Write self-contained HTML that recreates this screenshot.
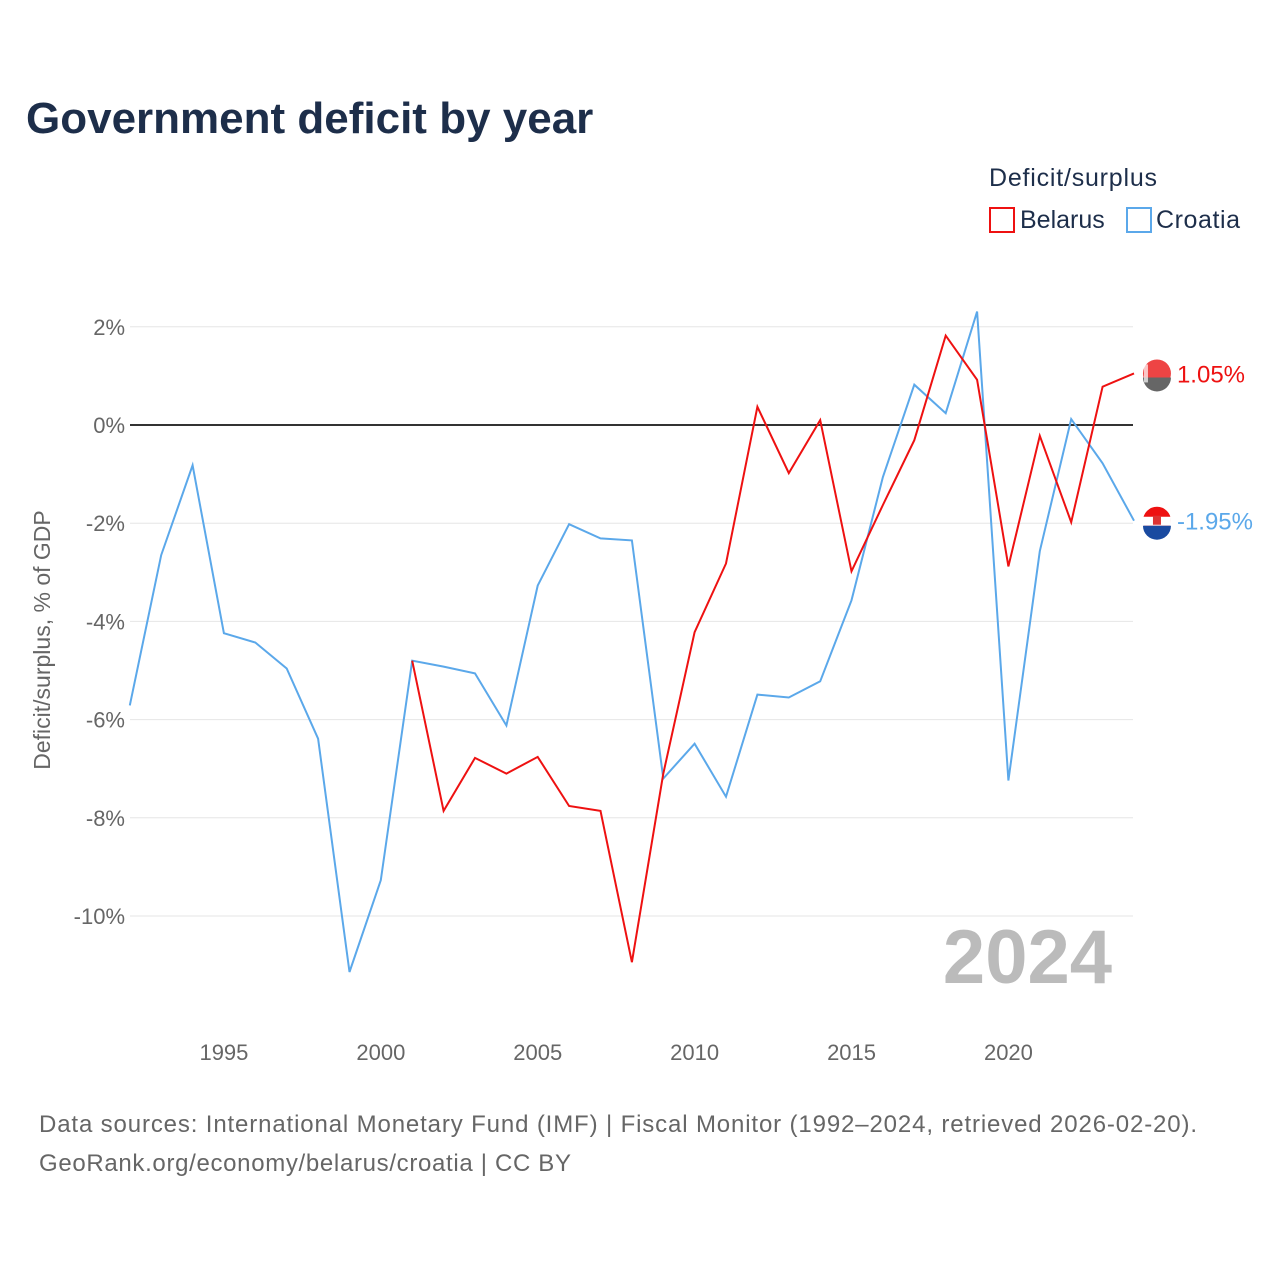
<!DOCTYPE html>
<html><head><meta charset="utf-8">
<style>
body{margin:0;background:#fff;font-family:"Liberation Sans",sans-serif;}
#wrap{position:relative;width:1280px;height:1280px;overflow:hidden;}
</style></head>
<body>
<div id="wrap">
<svg id="chart" width="1280" height="1280" style="font-family:'Liberation Sans',sans-serif">
<text x="26" y="133" font-size="44" font-weight="bold" fill="#1d2e4a">Government deficit by year</text>
<text x="989" y="186" font-size="25" fill="#1d2e4a" textLength="168">Deficit/surplus</text>
<g><rect x="990" y="208" width="24" height="24" fill="none" stroke="#ee1111" stroke-width="2"/><text x="1020" y="228" font-size="25" fill="#1d2e4a">Belarus</text></g>
<g><rect x="1127" y="208" width="24" height="24" fill="none" stroke="#5ba8ea" stroke-width="2"/><text x="1156" y="228" font-size="25" fill="#1d2e4a" textLength="84">Croatia</text></g>
<text transform="translate(50,640) rotate(-90)" text-anchor="middle" font-size="23" fill="#666">Deficit/surplus, % of GDP</text>
<g id="grid"></g><g id="xt"></g>
<text x="1112" y="983" text-anchor="end" font-size="76" font-weight="bold" fill="#bbb">2024</text>
<g id="lines"></g>
<text x="39" y="1132" font-size="24" fill="#666" textLength="1158">Data sources: International Monetary Fund (IMF) | Fiscal Monitor (1992–2024, retrieved 2026-02-20).</text>
<text x="39" y="1171" font-size="24" fill="#666" textLength="532">GeoRank.org/economy/belarus/croatia | CC BY</text>
</svg>
</div>
<script>
const years=[1992,1993,1994,1995,1996,1997,1998,1999,2000,2001,2002,2003,2004,2005,2006,2007,2008,2009,2010,2011,2012,2013,2014,2015,2016,2017,2018,2019,2020,2021,2022,2023,2024];
const croatia=[-5.71,-2.65,-0.82,-4.24,-4.43,-4.96,-6.39,-11.14,-9.27,-4.8,-4.92,-5.06,-6.12,-3.27,-2.02,-2.31,-2.35,-7.2,-6.49,-7.57,-5.49,-5.55,-5.22,-3.57,-1.06,0.82,0.24,2.31,-7.24,-2.57,0.12,-0.78,-1.95];
const belarus=[null,null,null,null,null,null,null,null,null,-4.8,-7.86,-6.78,-7.1,-6.76,-7.76,-7.86,-10.94,-7.1,-4.22,-2.82,0.37,-0.98,0.1,-2.98,-1.63,-0.31,1.82,0.92,-2.88,-0.22,-1.98,0.78,1.05];
const yTicks=[2,0,-2,-4,-6,-8,-10];
const xTicks=[1995,2000,2005,2010,2015,2020];
const NS="http://www.w3.org/2000/svg";
const X=y=>129.8+(y-1992)*31.38;
const Y=v=>425-v*49.1;
function mk(t,a,p){const e=document.createElementNS(NS,t);for(const k in a)e.setAttribute(k,a[k]);p.appendChild(e);return e;}
const grid=document.getElementById('grid');
yTicks.forEach(v=>{
 const l=mk('line',{x1:130,x2:1133,y1:Y(v),y2:Y(v),stroke:v===0?'#333':'#e6e6e6','stroke-width':v===0?2:1},grid);
 
 
 const t=mk('text',{x:125,y:Y(v)+8,'text-anchor':'end','font-size':22,fill:'#666'},grid);
 t.textContent=v+'%';
 
 
});
const xt=document.getElementById('xt');
xTicks.forEach(y=>{
 const t=mk('text',{x:X(y),y:1060,'text-anchor':'middle','font-size':22,fill:'#666'},xt);
 t.textContent=y;
 
 
});
const lines=document.getElementById('lines');
function draw(vals,col,name){
 let d='';vals.forEach((v,i)=>{if(v===null)return;d+=(d?'L':'M')+X(years[i]).toFixed(1)+','+Y(v).toFixed(1);});
 const p=mk('path',{d:d,fill:'none',stroke:col,'stroke-width':2},lines);
 
 
 const last=vals[vals.length-1],cx=X(years[years.length-1])+23,cy=Y(last);
 const g=mk('g',{},lines);
 
 
 if(name==='belarus'){
  mk('circle',{cx:cx,cy:cy,r:14,fill:'#ee4444'},g);
  mk('path',{d:`M${cx-14},${cy+4}A14,14 0 0 0 ${cx+14},${cy+4}Z`,fill:'#666'},g);
  mk('rect',{x:cx-13,y:cy-9,width:4,height:18,fill:'#fff',opacity:0.7},g);
 } else {
  mk('circle',{cx:cx,cy:cy,r:14,fill:'#ee1111'},g);
  mk('path',{d:`M${cx-14},${cy-4}H${cx+14}V${cy+5}H${cx-14}Z`,fill:'#fff'},g);
  mk('path',{d:`M${cx-14},${cy+5}A14,14 0 0 0 ${cx+14},${cy+5}Z`,fill:'#1a4aa0'},g);
  mk('rect',{x:cx-4,y:cy-5,width:8,height:9,fill:'#d33'},g);
 }
 const t=mk('text',{x:cx+20,y:cy+9,'font-size':24,fill:col},lines);
 t.textContent=last.toFixed(2)+'%';
 
 
}
draw(croatia,'#5ba8ea','croatia');
draw(belarus,'#ee1111','belarus');
</script>
</body></html>
